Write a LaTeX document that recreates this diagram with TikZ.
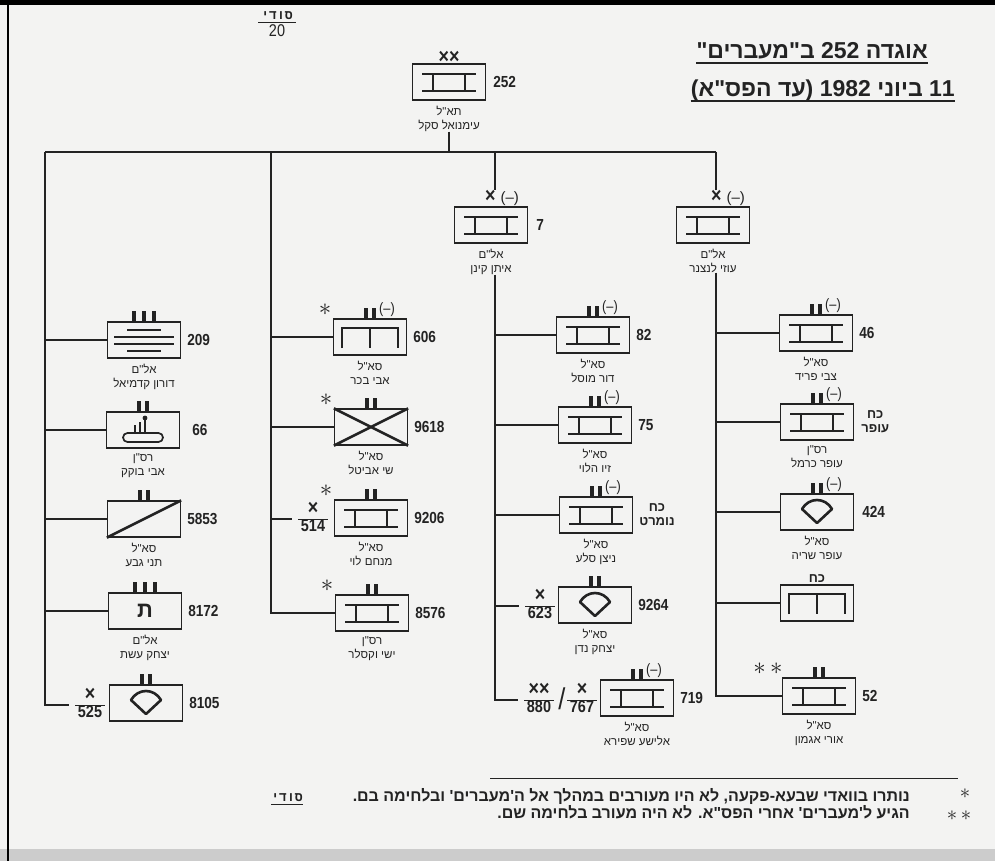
\documentclass[tikz,border=0pt]{standalone}
\usepackage{fontspec}
\setmainfont{Liberation Sans}
\newfontfamily\heb[Script=Hebrew]{Liberation Sans}
\newfontfamily\hebmono[Script=Hebrew]{Liberation Mono}
\newfontfamily\numf[FakeStretch=0.85]{Liberation Sans}
\TeXXeTstate=1
\usetikzlibrary{positioning}
\definecolor{paper}{RGB}{243,243,242}
\definecolor{ink}{RGB}{35,35,35}
\newcommand\hb[1]{{\heb\beginR #1\endR}}
\newcommand\bigx{{\fontsize{21}{14}\selectfont ×}}

\tikzset{
  unit/.style={draw=ink, line width=1.2pt, minimum width=73pt, minimum height=36pt, inner sep=0pt},
  link/.style={draw=ink, line width=1.8pt},
  sym/.style={draw=ink, line width=2.6pt},
  barmark/.style={draw=ink, line width=3.2pt},
  num/.style={font=\numf\bfseries\fontsize{16}{16}\selectfont, text=ink, inner sep=0pt},
  names/.style={font=\heb\fontsize{11.5}{14}\selectfont, text=ink, align=center, inner sep=0pt},
  kah/.style={font=\heb\bfseries\fontsize{13}{14}\selectfont, text=ink, align=center, inner sep=0pt},
  xmark/.style={font=\numf\bfseries\fontsize{21}{21}\selectfont, text=ink, inner sep=0pt},
  minus/.style={font=\numf\fontsize{15}{15}\selectfont, text=ink, inner sep=0pt},
  astx/.style={font=\fontsize{30}{30}\selectfont, text=ink, inner sep=0pt},
  frac/.style={font=\numf\bfseries\fontsize{17}{15}\selectfont, text=ink, inner sep=0pt},
  foot/.style={font=\heb\bfseries\fontsize{16}{16}\selectfont, text=ink, inner sep=0pt, text height=9pt, text depth=3pt},
  title/.style={font=\heb\bfseries\fontsize{23}{24}\selectfont, text=ink, inner sep=0pt},
  ibeam/.pic={\draw[sym] (-27,-8) -- (27,-8) (-27,9) -- (27,9) (-16,-8) -- (-16,9) (16,-8) -- (16,9);},
  comb/.pic={\draw[sym] (-28,11) -- (-28,-9) -- (28,-9) -- (28,11) (0,-9) -- (0,11);},
  shield/.pic={\draw[sym, line join=round] (-15,-3) .. controls (-8,-15) and (8,-15) .. (15,-3) -- (0,11) -- cycle;},
  lines4/.pic={\draw[sym, line width=2.2pt] (-17,-10) -- (17,-10) (-30,-3) -- (30,-3) (-30,4) -- (30,4) (-17,11) -- (17,11);},
  gunsym/.pic={\draw[ink, line width=1.7pt, rounded corners=4.5pt] (-20,3) rectangle (20,12);
    \draw[ink, line width=2pt] (2,3) -- (2,-11) (-8,2) -- (-8,-5) (-3,2) -- (-3,-8);
    \fill[ink] (2,-12) circle (2.4);},
  bars2/.pic={\draw[barmark] (-4,0) -- (-4,-10) (4,0) -- (4,-10);},
  bars3/.pic={\draw[barmark] (-10,0) -- (-10,-10) (0,0) -- (0,-10) (10,0) -- (10,-10);},
}

\begin{document}
\begin{tikzpicture}[x=1pt,y=-1pt]
\useasboundingbox (0,0) rectangle (995,861);
\fill[paper] (0,0) rectangle (995,861);
\fill[gray!40] (0,849) rectangle (995,861);
\draw[black, line width=6pt] (0,2) -- (995,2);
\draw[black, line width=1.5pt] (8,0) -- (8,861);

% heading
\node[font=\hebmono\bfseries\fontsize{13}{13}\selectfont, text=ink, inner sep=0pt] (sec1) at (277,16) {\beginR סודי\endR};
\node[font=\numf\fontsize{17}{17}\selectfont, text=ink, inner sep=0pt] (page) at (277,31) {20};
\draw[ink, line width=1pt] (258,23) -- (296,23);
\node[title, anchor=base east] (ttl1) at (928,59) {\hb{אוגדה 252 ב"מעברים"}};
\node[title, anchor=base east] (ttl2) at (955,97) {\hb{11 ביוני 1982 (עד הפס"א)}};
\draw[ink, line width=1.3pt] ([yshift=-4pt]ttl1.base west) -- ([yshift=-4pt]ttl1.base east);
\draw[ink, line width=1.3pt] ([yshift=-4pt]ttl2.base west) -- ([yshift=-4pt]ttl2.base east);

% division
\node[unit] (n252) at (449,82) {};
\pic at (n252) {ibeam};
\node[xmark, anchor=south] (x252) at ([yshift=0pt]n252.north) {××};
\node[num, right=7pt of n252] (l252) {252};
\node[names, below=5pt of n252] (t252) {\hb{תא"ל}\\\hb{עימנואל סקל}};

\coordinate (b0) at (449,152);
\coordinate (b1) at (45,152);
\coordinate (b2) at (271,152);
\coordinate (b3) at (495,152);
\coordinate (b4) at (716,152);
\draw[link] (t252) -- (b0);
\draw[link] (b1) -- (b4);

% brigade heads
\node[unit] (n7) at (491,225) {};
\pic at (n7) {ibeam};
\node[xmark, anchor=south west] (x7) at ([xshift=-6pt,yshift=1pt]n7.north) {× \normalfont\fontsize{15}{15}\selectfont(–)};
\node[num, right=8pt of n7] (l7) {7};
\node[names, below=5pt of n7] (t7) {\hb{אל"ם}\\\hb{איתן קינן}};
\draw[link] (b3) -- (b3 |- x7.north);

\node[unit] (nuzi) at (713,225) {};
\pic at (nuzi) {ibeam};
\node[xmark, anchor=south west] (xuzi) at ([xshift=-2pt,yshift=1pt]nuzi.north) {× \normalfont\fontsize{15}{15}\selectfont(–)};
\node[names, below=5pt of nuzi] (tuzi) {\hb{אל"ם}\\\hb{עוזי לנצנר}};
\draw[link] (b4) -- (b4 |- xuzi.north);

% column 1
\node[unit] (n209) at (144,340) {};
\pic at (n209) {lines4};
\pic at (n209.north) {bars3};
\node[num, right=6pt of n209] (l209) {209};
\node[names, below=5pt of n209] (t209) {\hb{אל"ם}\\\hb{דורון קדמיאל}};

\node[unit] (n66) at (143,430) {};
\pic at (n66) {gunsym};
\pic at (n66.north) {bars2};
\node[num, right=12pt of n66] (l66) {66};
\node[names, below=5pt of n66] (t66) {\hb{רס"ן}\\\hb{אבי בוקק}};

\node[unit] (n5853) at (144,519) {};
\draw[sym] (n5853.south west) -- (n5853.north east);
\pic at (n5853.north) {bars2};
\node[num, right=6pt of n5853] (l5853) {5853};
\node[names, below=5pt of n5853] (t5853) {\hb{סא"ל}\\\hb{תני גבע}};

\node[unit] (n8172) at (145,611) {};
\node[font=\heb\bfseries\fontsize{22}{22}\selectfont, text=ink, inner sep=0pt] (g8172) at (n8172) {ת};
\pic at (n8172.north) {bars3};
\node[num, right=6pt of n8172] (l8172) {8172};
\node[names, below=5pt of n8172] (t8172) {\hb{אל"ם}\\\hb{יצחק עשת}};

\node[unit] (n8105) at (146,703) {};
\pic at (n8105) {shield};
\pic at (n8105.north) {bars2};
\node[num, right=6pt of n8105] (l8105) {8105};
\node[frac] (f525) at (90,705) {\begin{tabular}{@{\,}c@{\,}}\bigx\\\hline 525\end{tabular}};

\draw[link, shorten >=6pt] (b1) |- (f525);
\draw[link] (n209 -| b1) -- (n209);
\draw[link] (n66 -| b1) -- (n66);
\draw[link] (n5853 -| b1) -- (n5853);
\draw[link] (n8172 -| b1) -- (n8172);

% column 2
\node[unit] (n606) at (370,337) {};
\pic at (n606) {comb};
\pic at (n606.north) {bars2};
\node[minus, anchor=south west] (m606) at ([xshift=9pt,yshift=2pt]n606.north) {(–)};
\node[astx] (s606) at ([xshift=-45pt,yshift=9pt]n606.north) {$\ast$};
\node[num, right=6pt of n606] (l606) {606};
\node[names, below=5pt of n606] (t606) {\hb{סא"ל}\\\hb{אבי בכר}};

\node[unit] (n9618) at (371,427) {};
\draw[sym] (n9618.south west) -- (n9618.north east) (n9618.north west) -- (n9618.south east);
\pic at (n9618.north) {bars2};
\node[astx] (s9618) at ([xshift=-45pt,yshift=9pt]n9618.north) {$\ast$};
\node[num, right=6pt of n9618] (l9618) {9618};
\node[names, below=5pt of n9618] (t9618) {\hb{סא"ל}\\\hb{שי אביטל}};

\node[unit] (n9206) at (371,518) {};
\pic at (n9206) {ibeam};
\pic at (n9206.north) {bars2};
\node[astx] (s9206) at ([xshift=-45pt,yshift=9pt]n9206.north) {$\ast$};
\node[num, right=6pt of n9206] (l9206) {9206};
\node[names, below=5pt of n9206] (t9206) {\hb{סא"ל}\\\hb{מנחם לוי}};
\node[frac] (f514) at (313,519) {\begin{tabular}{@{\,}c@{\,}}\bigx\\\hline 514\end{tabular}};

\node[unit] (n8576) at (372,613) {};
\pic at (n8576) {ibeam};
\pic at (n8576.north) {bars2};
\node[astx] (s8576) at ([xshift=-45pt,yshift=9pt]n8576.north) {$\ast$};
\node[num, right=6pt of n8576] (l8576) {8576};
\node[names, below=5pt of n8576] (t8576) {\hb{רס"ן}\\\hb{ישי וקסלר}};

\draw[link] (b2) |- (n8576);
\draw[link] (n606 -| b2) -- (n606);
\draw[link] (n9618 -| b2) -- (n9618);
\draw[link, shorten >=6pt] (f514 -| b2) -- (f514);

% column 3
\node[unit] (n82) at (593,335) {};
\pic at (n82) {ibeam};
\pic at (n82.north) {bars2};
\node[minus, anchor=south west] (m82) at ([xshift=9pt,yshift=2pt]n82.north) {(–)};
\node[num, right=6pt of n82] (l82) {82};
\node[names, below=5pt of n82] (t82) {\hb{סא"ל}\\\hb{דור מוסל}};

\node[unit] (n75) at (595,425) {};
\pic at (n75) {ibeam};
\pic at (n75.north) {bars2};
\node[minus, anchor=south west] (m75) at ([xshift=9pt,yshift=2pt]n75.north) {(–)};
\node[num, right=6pt of n75] (l75) {75};
\node[names, below=5pt of n75] (t75) {\hb{סא"ל}\\\hb{זיו הלוי}};

\node[unit] (nnomert) at (596,515) {};
\pic at (nnomert) {ibeam};
\pic at (nnomert.north) {bars2};
\node[minus, anchor=south west] (mnomert) at ([xshift=9pt,yshift=2pt]nnomert.north) {(–)};
\node[kah, right=6pt of nnomert] (lnomert) {\hb{כח}\\\hb{נומרט}};
\node[names, below=5pt of nnomert] (tnomert) {\hb{סא"ל}\\\hb{ניצן סלע}};

\node[unit] (n9264) at (595,605) {};
\pic at (n9264) {shield};
\pic at (n9264.north) {bars2};
\node[num, right=6pt of n9264] (l9264) {9264};
\node[names, below=5pt of n9264] (t9264) {\hb{סא"ל}\\\hb{יצחק נדן}};
\node[frac] (f623) at (540,606) {\begin{tabular}{@{\,}c@{\,}}\bigx\\\hline 623\end{tabular}};

\node[unit] (n719) at (637,698) {};
\pic at (n719) {ibeam};
\pic at (n719.north) {bars2};
\node[minus, anchor=south west] (m719) at ([xshift=9pt,yshift=2pt]n719.north) {(–)};
\node[num, right=6pt of n719] (l719) {719};
\node[names, below=5pt of n719] (t719) {\hb{סא"ל}\\\hb{אלישע שפירא}};
\node[frac] (f880) at (539,700) {\begin{tabular}{@{\,}c@{\,}}\bigx\bigx\\\hline 880\end{tabular}};
\node[frac, font=\numf\fontsize{30}{30}\selectfont] (sl719) at (562,699) {/};
\node[frac] (f767) at (582,700) {\begin{tabular}{@{\,}c@{\,}}\bigx\\\hline 767\end{tabular}};

\draw[link, shorten >=6pt] (t7.south -| b3) |- (f880);
\draw[link] (n82 -| b3) -- (n82);
\draw[link] (n75 -| b3) -- (n75);
\draw[link] (nnomert -| b3) -- (nnomert);
\draw[link, shorten >=6pt] (f623 -| b3) -- (f623);

% column 4
\node[unit] (n46) at (816,333) {};
\pic at (n46) {ibeam};
\pic at (n46.north) {bars2};
\node[minus, anchor=south west] (m46) at ([xshift=9pt,yshift=2pt]n46.north) {(–)};
\node[num, right=6pt of n46] (l46) {46};
\node[names, below=5pt of n46] (t46) {\hb{סא"ל}\\\hb{צבי פריד}};

\node[unit] (nofer) at (817,422) {};
\pic at (nofer) {ibeam};
\pic at (nofer.north) {bars2};
\node[minus, anchor=south west] (mofer) at ([xshift=9pt,yshift=2pt]nofer.north) {(–)};
\node[kah, right=7pt of nofer] (lofer) {\hb{כח}\\\hb{עופר}};
\node[names, below=5pt of nofer] (tofer) {\hb{רס"ן}\\\hb{עופר כרמל}};

\node[unit] (n424) at (817,512) {};
\pic at (n424) {shield};
\pic at (n424.north) {bars2};
\node[minus, anchor=south west] (m424) at ([xshift=9pt,yshift=2pt]n424.north) {(–)};
\node[num, right=8pt of n424] (l424) {424};
\node[names, below=5pt of n424] (t424) {\hb{סא"ל}\\\hb{עופר שריה}};

\node[unit] (nkah) at (817,603) {};
\pic at (nkah) {comb};
\node[kah, anchor=south] (lkah) at ([yshift=2pt]nkah.north) {\hb{כח}};

\node[unit] (n52) at (819,696) {};
\pic at (n52) {ibeam};
\pic at (n52.north) {bars2};
\node[astx] (s52) at ([xshift=-51pt,yshift=9pt]n52.north) {$\ast\,\ast$};
\node[num, right=6pt of n52] (l52) {52};
\node[names, below=5pt of n52] (t52) {\hb{סא"ל}\\\hb{אורי אגמון}};

\draw[link] (tuzi.south -| b4) |- (n52);
\draw[link] (n46 -| b4) -- (n46);
\draw[link] (nofer -| b4) -- (nofer);
\draw[link] (n424 -| b4) -- (n424);
\draw[link] (nkah -| b4) -- (nkah);

% notes
\draw[ink, line width=1pt] (490,778) -- (958,778);
\node[foot, anchor=base east] (fn1) at (910,801) {\hb{נותרו בוואדי שבעא-פקעה, לא היו מעורבים במהלך אל ה'מעברים' ובלחימה בם.}};
\node[foot, anchor=base east] (fn2) at (910,818) {\hb{הגיע ל'מעברים' אחרי הפס"א. לא היה מעורב בלחימה שם.}};
\node[astx, font=\fontsize{22}{22}\selectfont] (fs1) at (965,794) {$\ast$};
\node[astx, font=\fontsize{22}{22}\selectfont] (fs2) at (952,816) {$\ast$};
\node[astx, font=\fontsize{22}{22}\selectfont] (fs3) at (966,816) {$\ast$};
\node[font=\hebmono\bfseries\fontsize{13}{13}\selectfont, text=ink, inner sep=0pt, anchor=base] (sec2) at (287,801) {\beginR סודי\endR};
\draw[ink, line width=1pt] ([yshift=-3pt]sec2.base west) -- ([yshift=-3pt]sec2.base east);
\end{tikzpicture}
\end{document}
